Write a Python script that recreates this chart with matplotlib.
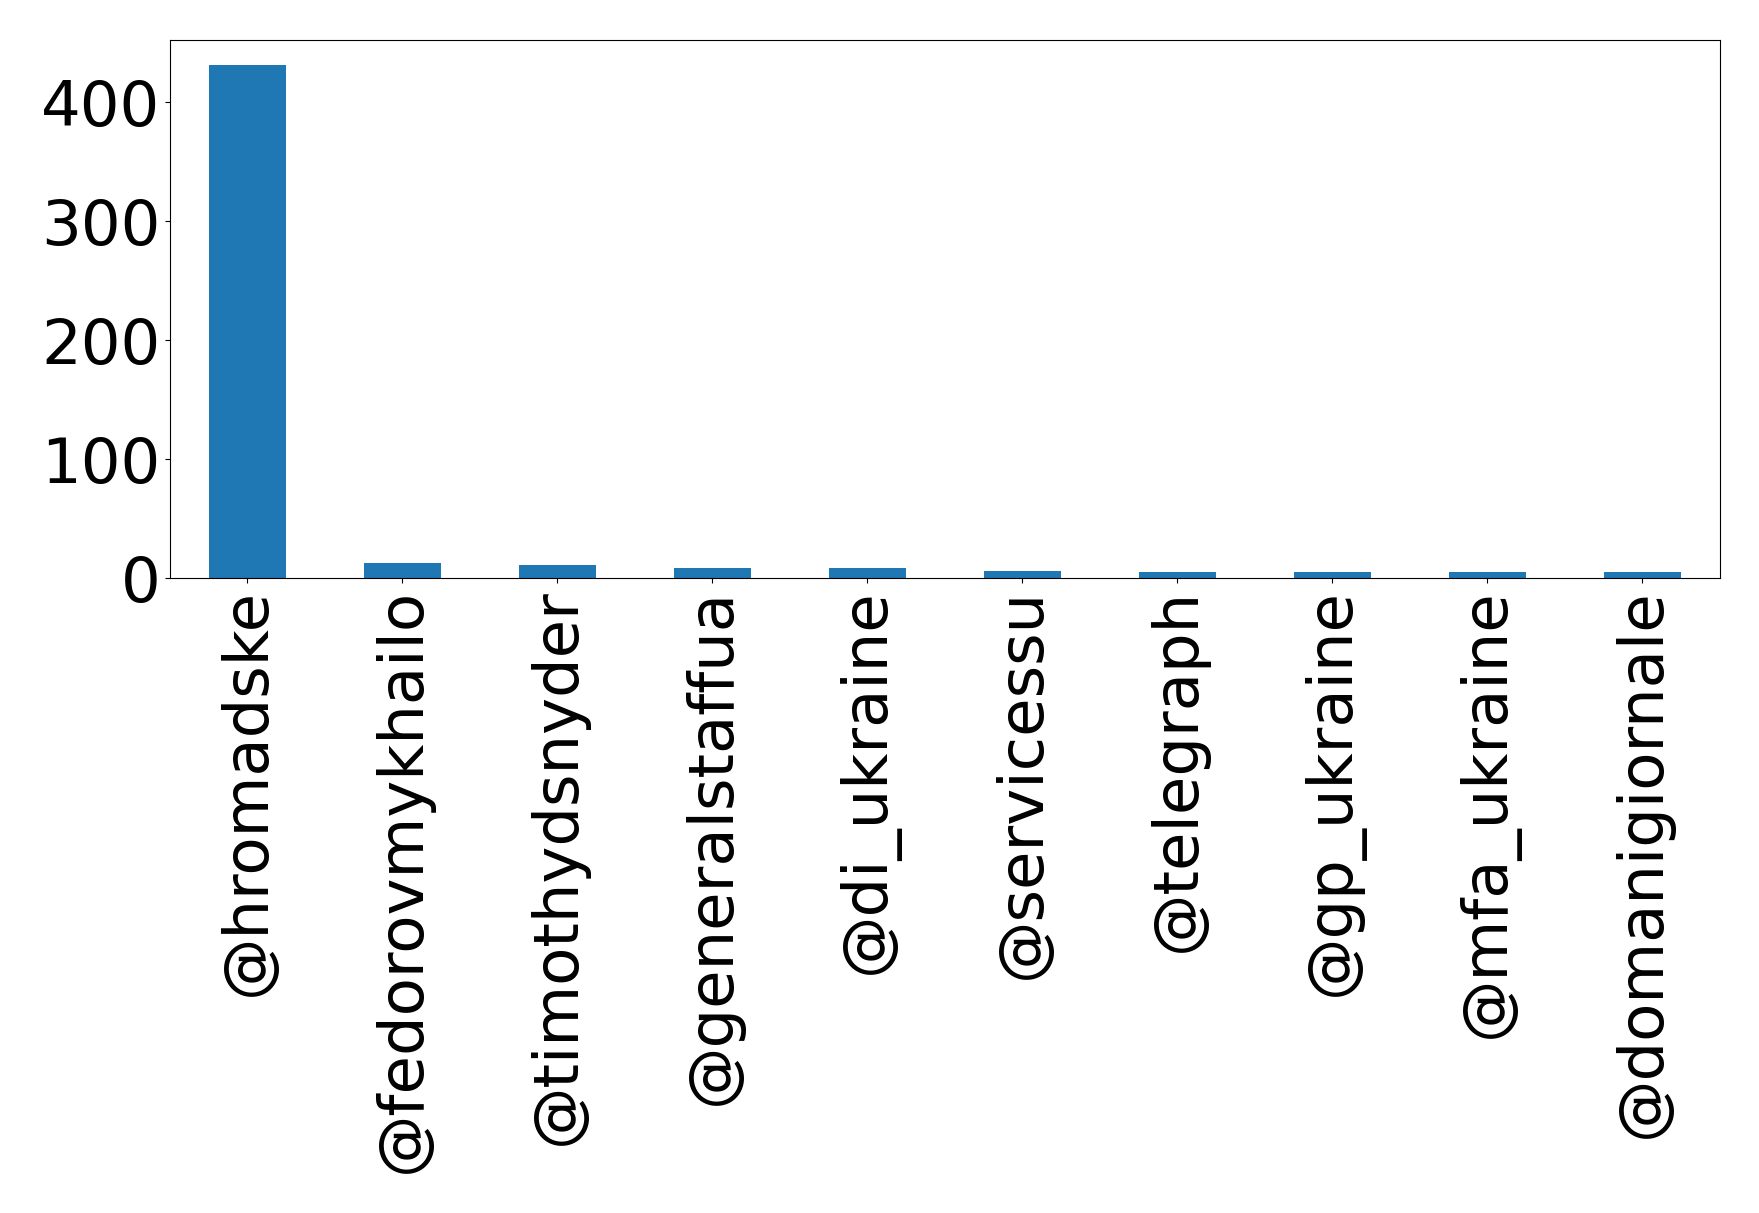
import matplotlib

matplotlib.use("Agg")
import matplotlib.pyplot as plt

accounts = [
    "@hromadske",
    "@fedorovmykhailo",
    "@timothydsnyder",
    "@generalstaffua",
    "@di_ukraine",
    "@servicessu",
    "@telegraph",
    "@gp_ukraine",
    "@mfa_ukraine",
    "@domanigiornale",
]
counts = [431, 13, 11, 9, 9, 6, 5, 5, 5, 5]


def plot():
    fig = plt.figure(figsize=(17.59, 12.13), dpi=100)
    ax = fig.add_axes((0.0966, 0.5232, 0.8812, 0.4442))

    pos = list(range(len(accounts)))
    ax.bar(pos, counts, width=0.5, color="#1f77b4")
    ax.set_xlim(-0.5, len(accounts) - 0.5)
    ax.set_ylim(0, max(counts) * 1.05)

    ax.set_xticks(pos, accounts, rotation=90, fontsize=45)
    ax.set_yticks([0, 100, 200, 300, 400])
    ax.tick_params(axis="y", labelsize=45)

    fig.savefig("out.png", dpi=100)
    plt.close(fig)


if __name__ == "__main__":
    plot()
